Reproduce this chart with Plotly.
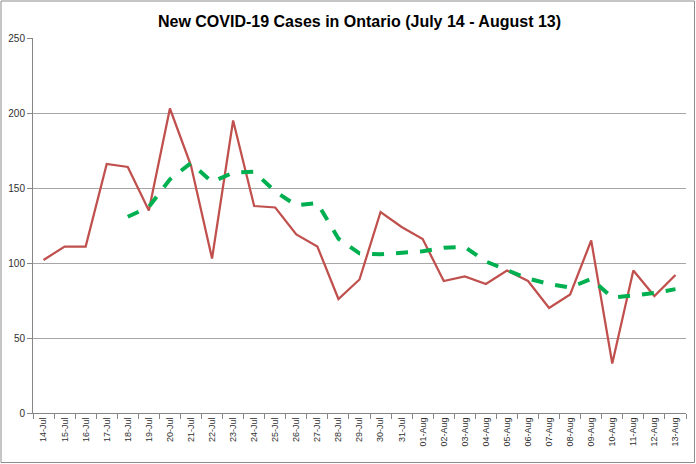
import plotly.graph_objects as go

dates = ["14-Jul", "15-Jul", "16-Jul", "17-Jul", "18-Jul", "19-Jul", "20-Jul", "21-Jul",
         "22-Jul", "23-Jul", "24-Jul", "25-Jul", "26-Jul", "27-Jul", "28-Jul", "29-Jul",
         "30-Jul", "31-Jul", "01-Aug", "02-Aug", "03-Aug", "04-Aug", "05-Aug", "06-Aug",
         "07-Aug", "08-Aug", "09-Aug", "10-Aug", "11-Aug", "12-Aug", "13-Aug"]
new_cases = [102, 111, 111, 166, 164, 135, 203, 165, 103, 195, 138, 137, 119, 111, 76, 89,
             134, 124, 116, 88, 91, 86, 95, 88, 70, 79, 115, 33, 95, 78, 92]
trend = [None, None, None, None, 130.8, 137.4, 155.8, 166.6, 154.0, 160.2, 160.8, 147.6,
         138.4, 140.0, 116.2, 106.4, 105.8, 106.8, 107.8, 110.2, 110.6, 101.0, 95.2, 89.6,
         86.0, 83.6, 89.4, 77.0, 78.4, 80.0, 82.6]
y_ticks = [0, 50, 100, 150, 200, 250]

fig = go.Figure()
fig.add_trace(go.Scatter(x=dates, y=new_cases, mode="lines",
                         line=dict(color="#C0504D", width=2.25), showlegend=False))
fig.add_trace(go.Scatter(x=dates, y=trend, mode="lines",
                         line=dict(color="#00B050", width=4, dash="dash"),
                         connectgaps=False, showlegend=False))

L, R, T, B = 33, 10, 38, 51
W, H = 696, 464
pw, ph = W - L - R, H - T - B

fig.update_layout(
    width=W, height=H,
    margin=dict(l=L, r=R, t=T, b=B, pad=0, autoexpand=False),
    paper_bgcolor="white", plot_bgcolor="white",
    font=dict(family="Liberation Sans, Arial, sans-serif", size=9, color="#303030"),
    title=dict(text="<b>New COVID-19 Cases in Ontario (July 14 - August 13)</b>",
               x=(L + pw / 2) / W, xanchor="center", y=1 - 21 / H, yanchor="middle",
               font=dict(size=16, color="#000000", family="Liberation Sans, Arial")),
    xaxis=dict(type="category", showgrid=False, showline=True, linecolor="#868686",
               linewidth=1, ticks="outside", tickson="boundaries", ticklen=5,
               tickcolor="#868686", tickangle=-90, tickfont=dict(size=9, color="#303030"),
               range=[-0.5, len(dates) - 0.5], fixedrange=True, automargin=False),
    yaxis=dict(range=[0, 250], tickvals=y_ticks, showgrid=True, gridcolor="#A6A6A6",
               gridwidth=1, showline=True, linecolor="#868686", linewidth=1,
               ticks="outside", ticklen=5, tickcolor="#868686", zeroline=False,
               tickfont=dict(size=10, color="#303030"), automargin=False),
    shapes=[dict(type="rect", xref="paper", yref="paper",
                 x0=(1 - L) / pw, x1=(W - 1.5 - L) / pw,
                 y0=-(H - 1.5 - (T + ph)) / ph, y1=1 + (T - 1) / ph,
                 line=dict(color="#8C8C8C", width=1), fillcolor="rgba(0,0,0,0)", layer="below")],
)

fig.write_html("out.html", config={"displayModeBar": False},
               post_script="document.body.style.margin='0';document.body.style.padding='0';")
